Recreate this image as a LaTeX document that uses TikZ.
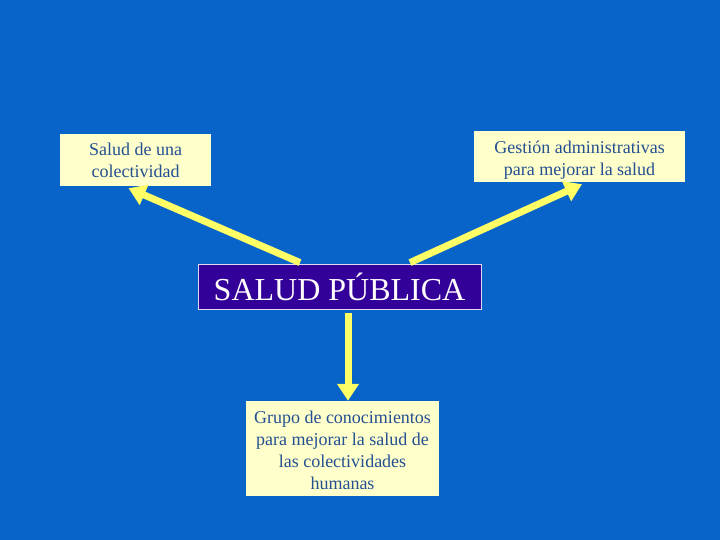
\documentclass[tikz,border=0pt]{standalone}
\usepackage{fontspec}
\setmainfont{Liberation Serif}
\usetikzlibrary{arrows.meta}
\definecolor{bgblue}{RGB}{8,100,200}
\definecolor{boxfill}{RGB}{255,255,204}
\definecolor{boxtext}{RGB}{35,80,145}
\definecolor{titlefill}{RGB}{51,0,153}
\definecolor{arrowyellow}{RGB}{255,255,102}
\begin{document}
\begin{tikzpicture}[x=1pt,y=-1pt,
  infobox/.style={fill=boxfill,draw=none,text=boxtext,inner sep=0pt,align=center,
    font=\fontsize{18}{22}\selectfont},
  titlebox/.style={fill=titlefill,draw=white!85!titlefill,line width=0.8pt,text=white!95!pink,
    inner sep=0pt,minimum width=283pt,minimum height=45pt,font=\fontsize{32}{36}\selectfont},
  yarrow/.style={draw=arrowyellow,line width=7pt,
    -{Triangle[width=21pt,length=17pt]},shorten <=0pt}
]
\fill[bgblue] (0,0) rectangle (720,540);
\useasboundingbox (0,0) rectangle (720,540);

\node[infobox,minimum width=151pt,minimum height=52pt] (left) at (135.5,160)
  {Salud de una\\colectividad};
\node[infobox,minimum width=211pt,minimum height=51pt] (right) at (579.5,156.5)
  {\raisebox{-4pt}[\height][\depth]{\begin{tabular}{@{}c@{}}Gestión administrativas\\para mejorar la salud\end{tabular}}};
\node[titlebox] (sp) at (339.5,286.5) {SALUD PÚBLICA};
\node[infobox,minimum width=193pt,minimum height=95pt] (bottom) at (342.5,448.5)
  {\raisebox{-4pt}[\height][\depth]{\begin{tabular}{@{}c@{}}Grupo de conocimientos\\para mejorar la salud de\\las colectividades\\humanas\end{tabular}}};

\draw[yarrow] ([xshift=-39.5pt,yshift=1pt]sp.north) -- ([xshift=-7pt,yshift=-2pt]left.south);
\draw[yarrow] ([xshift=70.5pt,yshift=1pt]sp.north) -- ([xshift=2.5pt,yshift=-2pt]right.south);
\draw[yarrow] ([xshift=8.5pt,yshift=-4pt]sp.south) -- ([xshift=5.5pt]bottom.north);
\end{tikzpicture}
\end{document}
